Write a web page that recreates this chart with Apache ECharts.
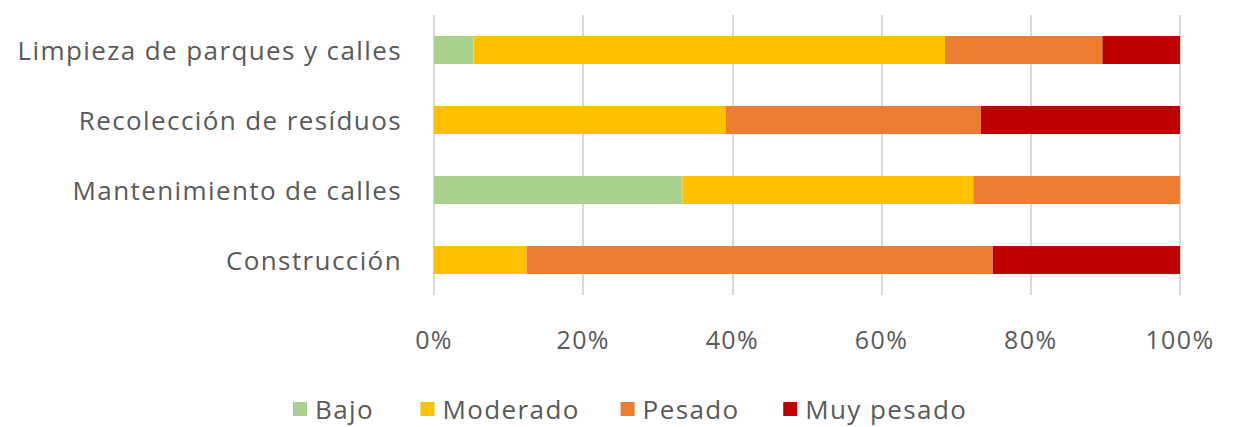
<!DOCTYPE html>
<html>
<head>
<meta charset="utf-8">
<script src="https://cdn.jsdelivr.net/npm/echarts@6/dist/echarts.min.js"></script>
<style>
  html, body { margin: 0; padding: 0; background: #fff; }
  #chart { width: 1234px; height: 427px; }
  /* Excel spaces its letters a bit wider */
  #chart text { letter-spacing: 1.4px; }
</style>
</head>
<body>
<div id="chart"></div>
<script>
// categories, top to bottom
const categories = [
  "Limpieza de parques y calles",
  "Recolección de resíduos",
  "Mantenimiento de calles",
  "Construcción"
];
const seriesNames = ["Bajo", "Moderado", "Pesado", "Muy pesado"];
// percentages
const bajo = [5.3, 0, 33.3, 0];
const moderado = [63.2, 39.1, 39.0, 12.4];
const pesado = [21.1, 34.2, 27.7, 62.5];
const muyPesado = [10.4, 26.7, 0, 25.1];
const xTicks = [0, 20, 40, 60, 80, 100];

const colors = ["#a9d18e", "#ffc000", "#ed7d31", "#c00000"];
const textColor = "#595959";
const fontFamily = "Open Sans";

const chart = echarts.init(document.getElementById("chart"), null, { renderer: "svg" });
const values = [bajo, moderado, pesado, muyPesado];

chart.setOption({
  animation: false,
  color: colors,
  textStyle: { fontFamily: fontFamily },
  grid: {
    top: 15,
    left: 434,
    right: 54,
    bottom: 132
  },
  legend: {
    bottom: 0,
    left: 288,
    itemWidth: 14,
    itemHeight: 14,
    itemGap: 52,
    icon: "rect",
    data: seriesNames,
    textStyle: { color: textColor, fontSize: 26, fontFamily: fontFamily, padding: [0, 0, 0, 3] }
  },
  xAxis: {
    type: "value",
    min: xTicks[0],
    max: xTicks[xTicks.length - 1],
    interval: 20,
    axisLine: { show: false },
    axisTick: { show: false },
    splitLine: { lineStyle: { color: "#d9d9d9", width: 2 } },
    axisLabel: {
      color: textColor,
      fontSize: 25,
      fontFamily: fontFamily,
      margin: 31,
      formatter: "{value}%"
    }
  },
  yAxis: {
    type: "category",
    inverse: true,
    data: categories,
    axisLine: { show: false },
    axisTick: { show: false },
    axisLabel: {
      color: textColor,
      fontSize: 26,
      fontFamily: fontFamily,
      margin: 32
    }
  },
  series: seriesNames.map(function (name, i) {
    return {
      name: name,
      type: "bar",
      stack: "total",
      barWidth: 28,
      data: values[i],
      itemStyle: { color: colors[i] }
    };
  })
});
</script>
</body>
</html>
